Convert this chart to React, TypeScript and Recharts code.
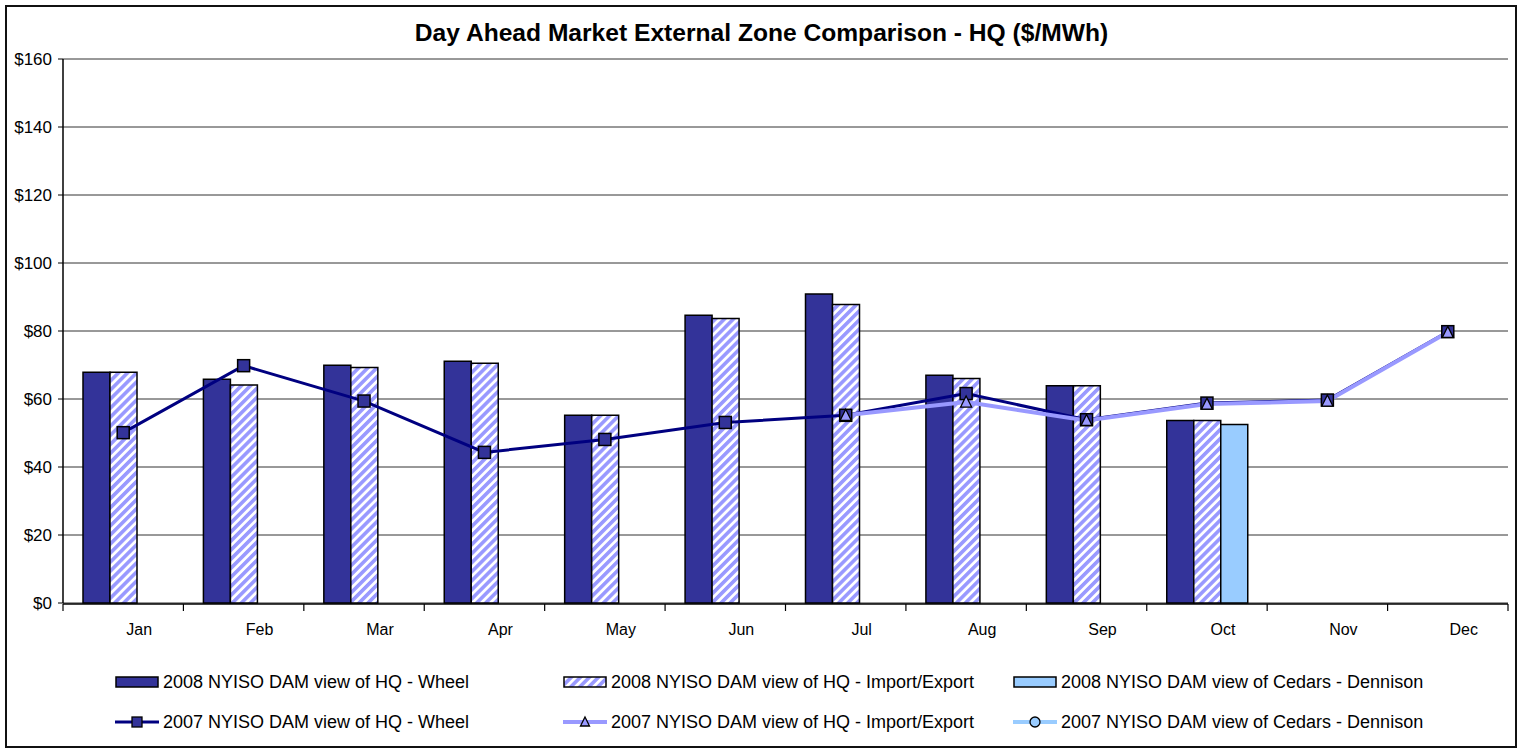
import React from 'react';
import { ComposedChart, Bar, Line, XAxis, YAxis, CartesianGrid } from 'recharts';

const months = ['Jan', 'Feb', 'Mar', 'Apr', 'May', 'Jun', 'Jul', 'Aug', 'Sep', 'Oct', 'Nov', 'Dec'];
const wheel2008: (number | null)[] = [67.9, 65.8, 69.9, 71.1, 55.2, 84.6, 90.9, 67.0, 63.9, 53.7, null, null];
const importExport2008: (number | null)[] = [67.9, 64.1, 69.3, 70.5, 55.2, 83.7, 87.8, 66.0, 63.9, 53.7, null, null];
const cedars2008: (number | null)[] = [null, null, null, null, null, null, null, null, null, 52.5, null, null];
const wheel2007: (number | null)[] = [50.1, 69.8, 59.4, 44.3, 48.1, 53.1, 55.2, 61.6, 53.9, 58.8, 59.7, 79.8];
const importExport2007: (number | null)[] = [null, null, null, null, null, null, 55.2, 59.1, 53.7, 58.5, 59.4, 79.6];
const cedars2007: (number | null)[] = [null, null, null, null, null, null, null, null, null, null, null, null];
const yTicks = [0, 20, 40, 60, 80, 100, 120, 140, 160];

const seriesNames = {
  w08: '2008 NYISO DAM view of HQ - Wheel',
  ie08: '2008 NYISO DAM view of HQ - Import/Export',
  c08: '2008 NYISO DAM view of Cedars - Dennison',
  w07: '2007 NYISO DAM view of HQ - Wheel',
  ie07: '2007 NYISO DAM view of HQ - Import/Export',
  c07: '2007 NYISO DAM view of Cedars - Dennison',
};

const data = months.map((m, i) => ({
  month: m,
  slot: i + 0.5,
  w08: wheel2008[i],
  ie08: importExport2008[i],
  c08: cedars2008[i],
  w07: wheel2007[i],
  ie07: importExport2007[i],
  c07: cedars2007[i],
}));
const boundaryTicks = months.map((_, i) => i).concat(months.length);

const FONT = '"Liberation Sans", Arial, sans-serif';

const SquareDot = (props: any) => {
  const { cx, cy, index } = props;
  if (cx == null || cy == null || props.value == null) return <g key={`sq-${index}`} />;
  return <rect key={`sq-${index}`} x={cx - 6} y={cy - 6} width={12} height={12} fill="#333399" stroke="#000" strokeWidth={1.5} />;
};
const TriDot = (props: any) => {
  const { cx, cy, index } = props;
  if (cx == null || cy == null || props.value == null) return <g key={`tr-${index}`} />;
  return (
    <polygon key={`tr-${index}`} points={`${cx},${cy - 6} ${cx + 5.5},${cy + 5} ${cx - 5.5},${cy + 5}`} fill="#9999FF" stroke="#000" strokeWidth={1.3} />
  );
};
const CircleDot = (props: any) => {
  const { cx, cy, index } = props;
  if (cx == null || cy == null || props.value == null) return <g key={`ci-${index}`} />;
  return <circle key={`ci-${index}`} cx={cx} cy={cy} r={5} fill="#99CCFF" stroke="#000" strokeWidth={1.3} />;
};

const MonthTick = (props: any) => {
  const { x, y, payload } = props;
  return (
    <text x={x + 16} y={y + 32} textAnchor="middle" fontSize={16} fill="#000" fontFamily={FONT}>
      {payload.value}
    </text>
  );
};

const legendRows = [
  [
    { name: seriesNames.w08, kind: 'bar', fill: '#333399' },
    { name: seriesNames.ie08, kind: 'bar', fill: 'url(#hatchLegend)' },
    { name: seriesNames.c08, kind: 'bar', fill: '#99CCFF' },
  ],
  [
    { name: seriesNames.w07, kind: 'sq', fill: '#000080' },
    { name: seriesNames.ie07, kind: 'tri', fill: '#9999FF' },
    { name: seriesNames.c07, kind: 'circ', fill: '#99CCFF' },
  ],
];
const legendCols = [115, 563, 1013];
const legendRowY = [682, 722];

const LegendIcon = ({ kind, fill }: { kind: string; fill: string }) => (
  <svg width={44} height={16} style={{ display: 'block' }}>
    <defs>
      <pattern id="hatchLegend" patternUnits="userSpaceOnUse" width={6.4} height={6.4} patternTransform="rotate(45)">
        <rect width={6.4} height={6.4} fill="#fff" />
        <rect width={3.6} height={6.4} fill="#9999FF" />
      </pattern>
    </defs>
    {kind === 'bar' && <rect x={1} y={3} width={42} height={10} fill={fill} stroke="#000" strokeWidth={1.5} />}
    {kind !== 'bar' && <line x1={0} y1={8} x2={44} y2={8} stroke={fill} strokeWidth={kind === 'sq' ? 3 : 4} />}
    {kind === 'sq' && <rect x={17} y={3} width={10} height={10} fill="#333399" stroke="#000" strokeWidth={1.3} />}
    {kind === 'tri' && <polygon points="22,3 26.5,12 17.5,12" fill="#9999FF" stroke="#000" strokeWidth={1.3} />}
    {kind === 'circ' && <circle cx={22} cy={8} r={5} fill="#99CCFF" stroke="#000" strokeWidth={1.3} />}
  </svg>
);

export default function App() {
  return (
    <div style={{ position: 'absolute', left: 0, top: 0, width: 1523, height: 749, background: '#fff', fontFamily: FONT }}>
      <div
        style={{
          position: 'absolute', left: 5, top: 5, width: 1512, height: 743,
          border: '2px solid #111', boxSizing: 'border-box',
        }}
      />
      <div
        style={{
          position: 'absolute', left: 0, top: 20, width: 1523, textAlign: 'center',
          fontSize: 24.6, fontWeight: 'bold', lineHeight: '26px', color: '#000',
        }}
      >
        Day Ahead Market External Zone Comparison - HQ ($/MWh)
      </div>
      <div style={{ position: 'absolute', left: 0, top: 0 }}>
        <ComposedChart
          width={1523}
          height={749}
          data={data}
          margin={{ top: 59, right: 15, bottom: 144, left: 0 }}
          barCategoryGap={20}
          barGap={0}
        >
          <defs>
            <pattern id="hatch" patternUnits="userSpaceOnUse" width={6.4} height={6.4} patternTransform="rotate(45)">
              <rect width={6.4} height={6.4} fill="#fff" />
              <rect width={3.6} height={6.4} fill="#9999FF" />
            </pattern>
          </defs>
          <CartesianGrid vertical={false} stroke="#333" strokeWidth={1} />
          <XAxis
            xAxisId="bounds"
            type="number"
            dataKey="slot"
            domain={[0, months.length]}
            allowDataOverflow
            ticks={boundaryTicks}
            height={1}
            tickSize={7}
            tickFormatter={() => ''}
            axisLine={{ stroke: '#000', strokeWidth: 1.5 }}
            tickLine={{ stroke: '#000', strokeWidth: 1.2 }}
            interval={0}
          />
          <XAxis dataKey="month" height={1} tickLine={false} axisLine={false} tickSize={0} tickMargin={0} tick={<MonthTick />} interval={0} />
          <YAxis
            domain={[0, 160]}
            ticks={yTicks}
            width={63}
            tickSize={5}
            tickMargin={6}
            tickFormatter={(v: number) => `$${v}`}
            axisLine={{ stroke: '#000', strokeWidth: 1.5 }}
            tickLine={{ stroke: '#000' }}
            tick={{ fontSize: 17, fill: '#000', fontFamily: FONT }}
            interval={0}
          />
          <YAxis
            yAxisId="frame"
            orientation="right"
            domain={[0, 160]}
            width={0}
            tick={false}
            tickLine={false}
            axisLine={{ stroke: '#000', strokeWidth: 1.2 }}
          />
          <Bar dataKey="w08" name={seriesNames.w08} fill="#333399" stroke="#000" strokeWidth={1.5} isAnimationActive={false} />
          <Bar dataKey="ie08" name={seriesNames.ie08} fill="url(#hatch)" stroke="#000" strokeWidth={1.5} isAnimationActive={false} />
          <Bar dataKey="c08" name={seriesNames.c08} fill="#99CCFF" stroke="#000" strokeWidth={1.5} isAnimationActive={false} />
          <Line dataKey="w07" name={seriesNames.w07} stroke="#000080" strokeWidth={3} dot={SquareDot} activeDot={false} isAnimationActive={false} />
          <Line dataKey="ie07" name={seriesNames.ie07} stroke="#9999FF" strokeWidth={4} dot={TriDot} activeDot={false} isAnimationActive={false} />
          <Line dataKey="c07" name={seriesNames.c07} stroke="#99CCFF" strokeWidth={4} dot={CircleDot} activeDot={false} isAnimationActive={false} />
        </ComposedChart>
      </div>
      {legendRows.map((row, ri) =>
        row.map((item, ci) => (
          <div
            key={`${ri}-${ci}`}
            style={{
              position: 'absolute', left: legendCols[ci], top: legendRowY[ri] - 11, height: 22,
              display: 'flex', alignItems: 'center', fontSize: 18, color: '#000', whiteSpace: 'nowrap',
            }}
          >
            <LegendIcon kind={item.kind} fill={item.fill} />
            <span style={{ marginLeft: 4 }}>{item.name}</span>
          </div>
        ))
      )}
    </div>
  );
}
